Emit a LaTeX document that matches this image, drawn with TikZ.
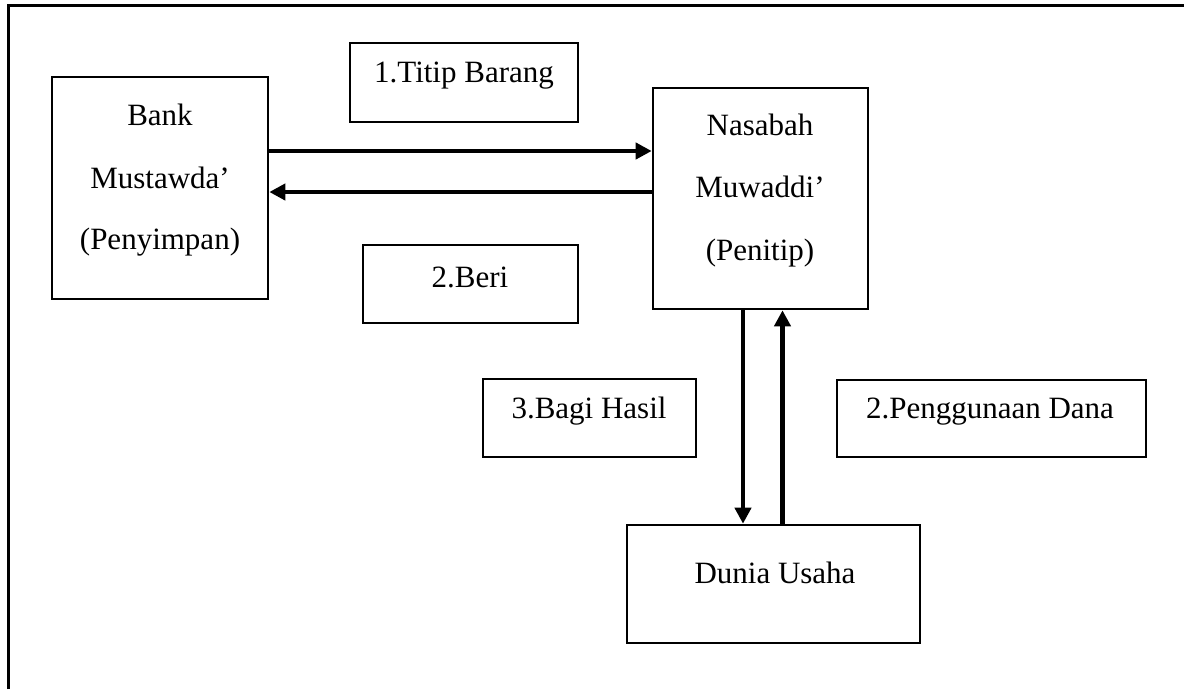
\documentclass[tikz,border=0pt]{standalone}
\usepackage{fontspec}
\setmainfont{Liberation Serif}
\usetikzlibrary{arrows.meta}
\begin{document}
\begin{tikzpicture}[x=1pt,y=-1pt,
  box/.style={draw,line width=2.6pt,inner sep=0pt},
  lbl/.style={anchor=base,inner sep=0pt,font=\fontsize{31}{37}\selectfont},
  arr/.style={line width=4.2pt,-{Triangle[length=16pt,width=16pt]}},
  frame/.style={line width=3pt}]
\useasboundingbox (0,0) rectangle (1184,689);
% outer frame (left and top)
\coordinate (fbl) at (8,689);
\coordinate (ftl) at (8,5);
\coordinate (ftr) at (1184,5);
\draw[frame] (fbl) -- (ftl) -- (ftr);
% boxes
\node[box,minimum width=216pt,minimum height=222pt] (bank) at (160,188) {};
\node[box,minimum width=228pt,minimum height=79pt] (titip) at (464,82.5) {};
\node[box,minimum width=215pt,minimum height=221pt] (nasabah) at (760.5,198.5) {};
\node[box,minimum width=215pt,minimum height=78pt] (beri) at (470.5,284) {};
\node[box,minimum width=213pt,minimum height=78pt] (bagi) at (589.5,418) {};
\node[box,minimum width=309pt,minimum height=77pt] (guna) at (991.5,418.5) {};
\node[box,minimum width=293pt,minimum height=118pt] (dunia) at (773.5,584) {};
% texts
\node[lbl] (bank1) at (160,125) {Bank};
\node[lbl] (bank2) at (160,188) {Mustawda’};
\node[lbl] (bank3) at (160,249) {(Penyimpan)};
\node[lbl] (nas1) at (760,135) {Nasabah};
\node[lbl] (nas2) at (760,197) {Muwaddi’};
\node[lbl] (nas3) at (760,260) {(Penitip)};
\node[lbl] (titipt) at (464,82) {1.Titip Barang};
\node[lbl] (berit) at (470,287) {2.Beri};
\node[lbl] (bagit) at (589,418) {3.Bagi Hasil};
\node[lbl] (gunat) at (990,418) {2.Penggunaan Dana};
\node[lbl] (duniat) at (775,583) {Dunia Usaha};
% connectors
\coordinate (ya) at (0,151);
\coordinate (yb) at (0,192);
\coordinate (xa) at (743,0);
\coordinate (xb) at (782.5,0);
\draw[arr] (bank.east |- ya) -- (nasabah.west |- ya);
\draw[arr] (nasabah.west |- yb) -- (bank.east |- yb);
\draw[arr] (nasabah.south -| xa) -- (dunia.north -| xa);
\draw[arr] (dunia.north -| xb) -- (nasabah.south -| xb);
\end{tikzpicture}
\end{document}
